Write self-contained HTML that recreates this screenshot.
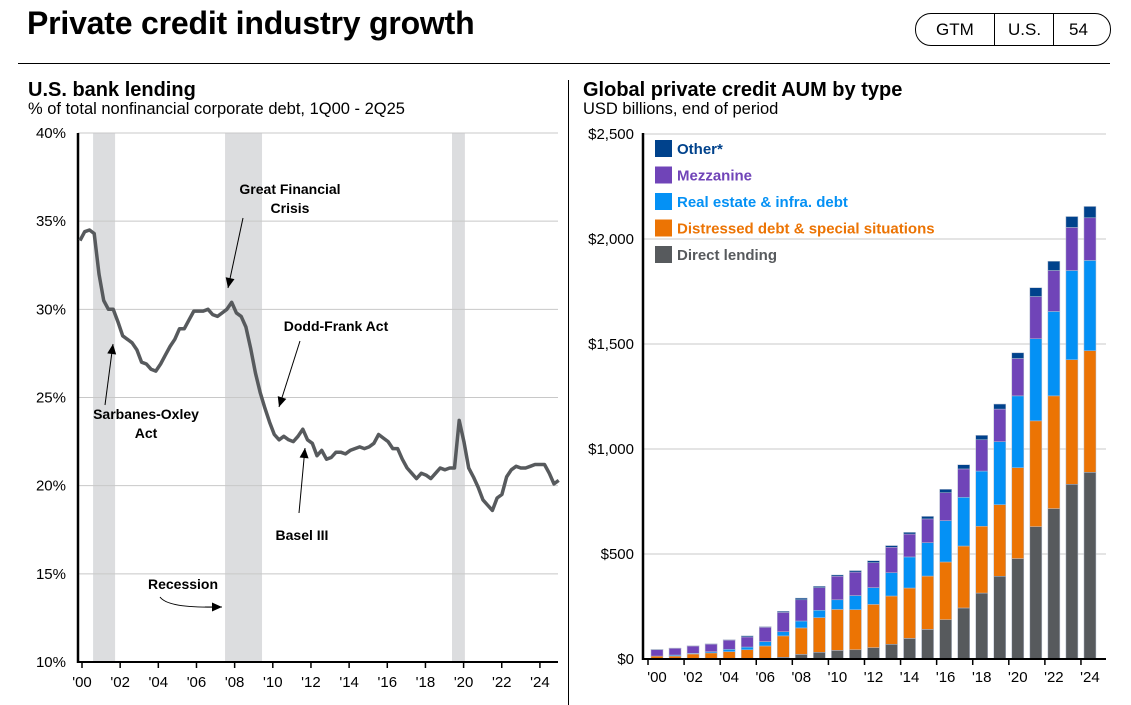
<!DOCTYPE html>
<html><head><meta charset="utf-8"><style>
body{margin:0;width:1131px;height:705px;background:#fff;font-family:"Liberation Sans",sans-serif;overflow:hidden;position:relative}
.t{position:absolute;white-space:nowrap}
svg{position:absolute;left:0;top:0}
</style></head><body>
<div class="t" style="left:27px;top:5px;font-size:32px;font-weight:bold;letter-spacing:-0.2px">Private credit industry growth</div>
<div style="position:absolute;left:915px;top:13px;width:194px;height:31px;border:1.5px solid #000;border-radius:16px;font-size:17px;">
<span class="t" style="left:20px;top:6px">GTM</span><span style="position:absolute;left:78px;top:0;height:31px;border-left:1.5px solid #000"></span>
<span class="t" style="left:92px;top:6px">U.S.</span><span style="position:absolute;left:137px;top:0;height:31px;border-left:1.5px solid #000"></span>
<span class="t" style="left:153px;top:6px">54</span></div>
<div style="position:absolute;left:18px;top:63px;width:1092px;border-top:1px solid #000"></div>
<div style="position:absolute;left:568px;top:80px;height:625px;border-left:1px solid #000"></div>
<div class="t" style="left:28px;top:79px;font-size:20px;font-weight:bold">U.S. bank lending</div>
<div class="t" style="left:28px;top:100px;font-size:16.5px">% of total nonfinancial corporate debt, 1Q00 - 2Q25</div>
<div class="t" style="left:583px;top:79px;font-size:20px;font-weight:bold">Global private credit AUM by type</div>
<div class="t" style="left:583px;top:100px;font-size:16.5px">USD billions, end of period</div>
<svg id="s" width="1131" height="705" font-family="Liberation Sans, sans-serif"></svg>
<script>
const lineVals=[33.9,34.4,34.5,34.3,32.0,30.5,30.0,30.0,29.3,28.5,28.3,28.1,27.7,27.0,26.9,26.6,26.5,26.9,27.4,27.9,28.3,28.9,28.9,29.4,29.9,29.9,29.9,30.0,29.7,29.6,29.8,30.0,30.4,29.8,29.6,29.0,27.8,26.4,25.3,24.4,23.6,22.9,22.6,22.8,22.6,22.5,22.8,23.2,22.6,22.4,21.7,22.0,21.5,21.6,21.9,21.9,21.8,22.0,22.1,22.2,22.1,22.2,22.4,22.9,22.7,22.5,22.1,22.1,21.5,21.0,20.7,20.4,20.7,20.6,20.4,20.7,21.0,20.9,21.0,21.0,23.7,22.5,21.0,20.5,19.9,19.2,18.9,18.6,19.3,19.5,20.5,20.9,21.1,21.0,21.0,21.1,21.2,21.2,21.2,20.7,20.1,20.3];
const lineTicks=[10,15,20,25,30,35,40];
const xTickYears=[0,2,4,6,8,10,12,14,16,18,20,22,24];
const recessions=[[2000.69,2001.85],[2007.65,2009.6],[2019.62,2020.3]];
const barYears=["'00","'02","'04","'06","'08","'10","'12","'14","'16","'18","'20","'22","'24"];
const directLending=[0,0,0,0,0,0,0,8,22,32,41,44,54,70,98,141,187,243,314,394,478,630,716,832,889];
const distressed=[14,14,24,29,35,44,62,102,126,165,195,191,206,230,240,254,275,295,318,341,433,504,537,593,579];
const realEstate=[0,5,3,6,11,13,21,20,33,35,46,67,80,111,148,159,197,232,263,300,342,391,402,425,430];
const mezzanine=[30,32,35,36,44,48,68,92,101,108,112,112,119,121,109,113,133,135,149,155,178,201,195,205,203];
const other=[2,1,1,1,2,5,3,5,8,6,6,7,9,8,8,12,16,20,21,24,27,42,44,52,54];
const barTicks=[0,500,1000,1500,2000,2500];
const legendNames=["Other*","Mezzanine","Real estate & infra. debt","Distressed debt & special situations","Direct lending"];
const colors={dl:"#575a5d",ds:"#ec7404",re:"#0491f5",mz:"#7044b8",ot:"#00428c"};
const S=document.getElementById('s');const NS="http://www.w3.org/2000/svg";
function el(t,a,txt){const e=document.createElementNS(NS,t);for(const k in a)e.setAttribute(k,a[k]);if(txt!=null)e.textContent=txt;S.appendChild(e);return e;}
const ly=v=>662-(v-10)*(529/30);
const lx=yr=>82+yr*19.08;
const dx=i=>80+i*4.74;
const rx=yr=>80+(yr-2000)*18.96;
recessions.forEach(r=>{const e=el('rect',{x:rx(r[0]),y:133,width:rx(r[1])-rx(r[0]),height:529,fill:'#dcdddf'});

});
lineTicks.forEach(v=>{if(v>10){const g=el('line',{x1:78,x2:558,y1:ly(v),y2:ly(v),stroke:'#c8c8c8','stroke-width':1});

}
const t=el('text',{x:66,y:ly(v)+5,'text-anchor':'end','font-size':15},v+'%');

});
xTickYears.forEach(y=>{const t=el('text',{x:lx(y),y:687,'text-anchor':'middle','font-size':15},"'"+String(y).padStart(2,'0'));


el('line',{x1:lx(y),x2:lx(y),y1:662,y2:668,stroke:'#000','stroke-width':1.5});});
el('line',{x1:78,x2:78,y1:133,y2:663,stroke:'#000','stroke-width':2.5});
el('line',{x1:77,x2:558,y1:662,y2:662,stroke:'#000','stroke-width':2});
const pts=lineVals.map((v,i)=>dx(i).toFixed(1)+','+ly(v).toFixed(1)).join(' ');
const pl=el('polyline',{points:pts,fill:'none',stroke:'#575a5d','stroke-width':3.5,'stroke-linejoin':'round'});


function ann(lines,x,y,name){lines.forEach((l,i)=>{const t=el('text',{x:x,y:y+i*19,'text-anchor':'middle','font-size':14,'font-weight':'bold'},l);

});}
function arrow(x1,y1,x2,y2){el('line',{x1,y1,x2,y2,stroke:'#000','stroke-width':1});const a=Math.atan2(y2-y1,x2-x1),L=10,w=4.5;
el('polygon',{points:`${x2},${y2} ${x2-L*Math.cos(a)+w*Math.sin(a)},${y2-L*Math.sin(a)-w*Math.cos(a)} ${x2-L*Math.cos(a)-w*Math.sin(a)},${y2-L*Math.sin(a)+w*Math.cos(a)}`,fill:'#000'});}
ann(["Great Financial","Crisis"],290,194,'gfc-annotation');arrow(243,218,228,288);
ann(["Dodd-Frank Act"],336,331,'dodd-frank-annotation');arrow(300,341,279,407);
ann(["Sarbanes-Oxley","Act"],146,419,'sox-annotation');arrow(105,405,113,344);
ann(["Basel III"],302,540,'basel-annotation');arrow(299,513,305,448);
ann(["Recession"],183,589,'recession-label');
el('path',{d:'M160,597 Q168,608 215,607',fill:'none',stroke:'#000','stroke-width':1});arrow(205,607,222,607);
const by=v=>659-v*0.21;
const bx=i=>657+i*18.04;
barTicks.forEach(v=>{if(v>0){const g=el('line',{x1:643,x2:1106,y1:by(v),y2:by(v),stroke:'#c8c8c8','stroke-width':1});

}
const t=el('text',{x:634,y:by(v)+5,'text-anchor':'end','font-size':15},'$'+v.toLocaleString('en-US'));

});
const series=[[directLending,colors.dl,'direct-lending'],[distressed,colors.ds,'distressed'],[realEstate,colors.re,'real-estate'],[mezzanine,colors.mz,'mezzanine'],[other,colors.ot,'other']];
directLending.forEach((_,i)=>{let base=0;series.forEach(s=>{const v=s[0][i];if(v>0){const r=el('rect',{x:bx(i)-6,y:by(base+v),width:12,height:v*0.21,fill:s[1],stroke:'#b7bfd0','stroke-width':0.5});

}base+=v;});});
el('line',{x1:643,x2:643,y1:133,y2:660,stroke:'#000','stroke-width':2.5});
el('line',{x1:642,x2:1106,y1:659,y2:659,stroke:'#000','stroke-width':2});
barYears.forEach((l,k)=>{const x=bx(k*2);const t=el('text',{x:x,y:682,'text-anchor':'middle','font-size':15},l);


el('line',{x1:x-9,x2:x-9,y1:659,y2:665,stroke:'#000','stroke-width':1.5});});
const lc=[colors.ot,colors.mz,colors.re,colors.ds,colors.dl];
legendNames.forEach((n,i)=>{const y=140+i*26.5;el('rect',{x:655,y:y,width:17,height:17,fill:lc[i]});
const t=el('text',{x:677,y:y+14,'font-size':15,'font-weight':'bold',fill:lc[i]},n);

});
</script>
</body></html>
